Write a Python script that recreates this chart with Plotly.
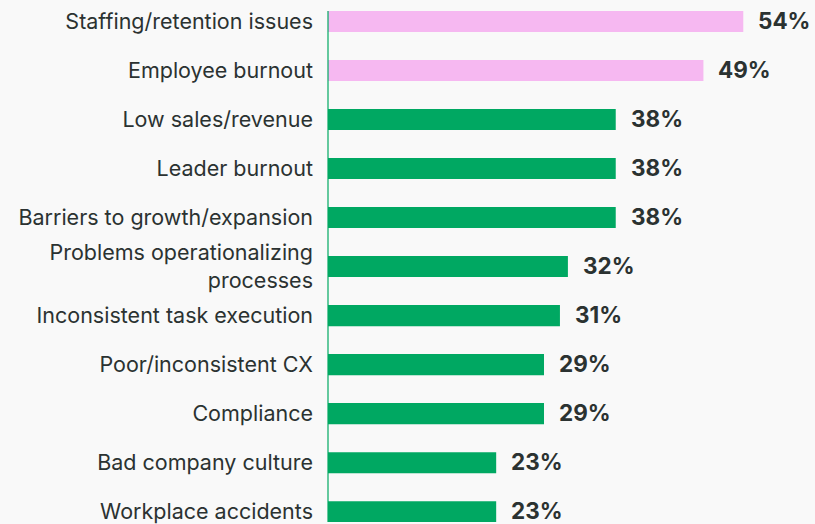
import plotly.graph_objects as go

categories = [
    "Staffing/retention issues",
    "Employee burnout",
    "Low sales/revenue",
    "Leader burnout",
    "Barriers to growth/expansion",
    "Problems operationalizing<br>processes",
    "Inconsistent task execution",
    "Poor/inconsistent CX",
    "Compliance",
    "Bad company culture",
    "Workplace accidents",
]
values = [54, 49, 38, 38, 38, 32, 31, 29, 29, 23, 23]
highlight = [True, True, False, False, False, False, False, False, False, False, False]

PINK = "#F6B8F1"
GREEN = "#00A862"
TEXT = "#2B3231"
BG = "#F9F9F9"
FONT = "Inter"

colors = [PINK if h else GREEN for h in highlight]

fig = go.Figure()
fig.add_trace(go.Bar(
    x=values,
    y=list(range(len(categories))),
    orientation="h",
    marker=dict(color=colors, line=dict(width=0)),
    width=0.43,
    hoverinfo="skip",
))

for i, v in enumerate(values):
    fig.add_annotation(
        x=v, y=i, text=f"<b>{v}%</b>", showarrow=False,
        xanchor="left", yanchor="middle", xshift=13, yshift=1,
        font=dict(family=FONT, size=22.5, color=TEXT),
    )

fig.add_shape(
    type="line", xref="paper", yref="y",
    x0=0, x1=0, y0=-0.215, y1=10.3,
    line=dict(color=GREEN, width=1.2),
)

fig.update_layout(
    width=815, height=524,
    margin=dict(l=328, r=0, t=0, b=0),
    paper_bgcolor=BG, plot_bgcolor=BG,
    showlegend=False,
    font=dict(family=FONT, size=21.5, color=TEXT),
    xaxis=dict(range=[1.9, 63.0], visible=False, fixedrange=True),
    yaxis=dict(
        range=[10.21, -0.437],
        tickmode="array",
        tickvals=list(range(len(categories))),
        ticktext=categories,
        showgrid=False, zeroline=False, showline=False,
        ticks="", ticklabelstandoff=14,
        ticklabeloverflow="allow",
        tickfont=dict(family=FONT, size=21.5, color=TEXT),
        fixedrange=True,
    ),
)

fig.write_html(
    "out.html",
    config={"displayModeBar": False},
    post_script="document.body.style.margin='0';document.body.style.background='#F9F9F9';",
)
